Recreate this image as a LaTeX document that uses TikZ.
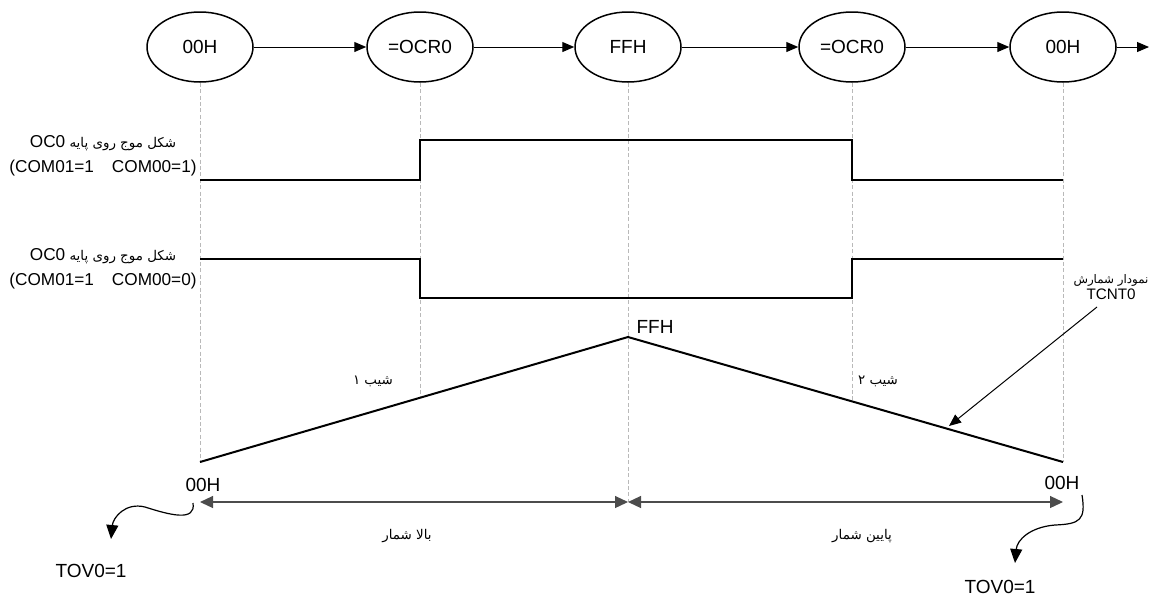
\documentclass[tikz,border=0pt]{standalone}
\usepackage{fontspec}
\setmainfont{Liberation Sans}
\newfontfamily\farsi[Script=Arabic,Scale=0.78]{DejaVu Sans}
\TeXXeTstate=1
\usetikzlibrary{arrows.meta,shapes.geometric,positioning}
\tikzset{
  state/.style={draw,line width=0.75pt,ellipse,minimum width=53pt,minimum height=35pt,inner sep=0pt,font=\fontsize{9.5}{11}\selectfont},
  flow/.style={-{Triangle[length=6pt,width=5pt]},line width=0.5pt},
  flag/.style={-{Triangle[length=7pt,width=6pt]},line width=0.6pt},
  guide/.style={gray!55,line width=0.4pt,dash pattern=on 2pt off 1.2pt},
  wave/.style={line width=1pt},
  span/.style={{Triangle[length=6.5pt,width=6pt]}-{Triangle[length=6.5pt,width=6pt]},line width=0.6pt,black!70},
  note/.style={font=\fontsize{8.6}{12.5}\selectfont,align=center,inner sep=0pt},
  big/.style={font=\fontsize{9.5}{11}\selectfont,inner sep=0pt}
}
\newcommand{\fatext}[1]{{\farsi\beginR #1\endR}}
\begin{document}
\begin{tikzpicture}[x=0.5pt,y=-0.5pt]
\useasboundingbox (0,0) rectangle (1150,596);
\foreach \n/\x/\t in {s0/200/00H,s1/420/=OCR0,s2/628/FFH,s3/852/=OCR0,s4/1063/00H}
  \node[state] (\n) at (\x,47) {\t};
\foreach \a/\b in {s0/s1,s1/s2,s2/s3,s3/s4}
  \draw[flow] (\a) -- (\b);
\coordinate (out) at (1149,47);
\draw[flow] (s4) -- (out);

\coordinate (z0) at (200,462);
\coordinate (pk) at (628,337);
\coordinate (z1) at (1063,462);
\coordinate (m1) at (420,398);
\coordinate (m3) at (852,401);
\coordinate (a0) at (200,502);
\coordinate (a1) at (628,502);
\coordinate (a2) at (1063,502);
\draw[guide] (s0) -- (z0);
\draw[guide] (s1) -- (m1);
\draw[guide] (s2) -- (a1);
\draw[guide] (s3) -- (m3);
\draw[guide] (s4) -- (z1);

\draw[wave] (200,180) -- (420,180) -- (420,140) -- (852,140) -- (852,180) -- (1063,180);
\draw[wave] (200,259) -- (420,259) -- (420,298) -- (852,298) -- (852,259) -- (1063,259);
\draw[wave] (z0) -- (pk) -- (z1);

\node[note,anchor=east] (w1) at (197,156) {\fatext{شکل موج روی پایه \beginL\normalfont OC0\endL}\\(COM01=1\hspace{9pt}COM00=1)};
\node[note,anchor=east] (w2) at (197,269) {\fatext{شکل موج روی پایه \beginL\normalfont OC0\endL}\\(COM01=1\hspace{9pt}COM00=0)};
\node[note,font=\fontsize{7.6}{8}\selectfont] (tc) at (1111,287) {\fatext{نمودار شمارش}\\TCNT0};
\coordinate (hit) at (949,426);
\draw[flow] ([xshift=-7pt,yshift=-3.5pt]tc.south) -- (hit);

\node[big] (ff) at (655,327) {FFH};
\node[big] (l0) at (203,485) {00H};
\node[big] (l1) at (1062,483) {00H};
\node[note] (k1) at (373,381) {\fatext{شیب ۱}};
\node[note] (k2) at (878,381) {\fatext{شیب ۲}};

\draw[span] (a0) -- (a1);
\draw[span] (a1) -- (a2);
\node[note] (up) at (407,536) {\fatext{بالا شمار}};
\node[note] (dn) at (862,536) {\fatext{پایین شمار}};

\node[big] (t0) at (91,571) {TOV0=1};
\node[big] (t1) at (1000,587) {TOV0=1};
\coordinate (c0) at (193,503);
\coordinate (e0) at (111,539);
\coordinate (c1) at (1082,495);
\coordinate (e1) at (1015,563);
\draw[flag] (c0) .. controls (196,522) and (170,515) .. (145,507) .. controls (125,502) and (113,518) .. (e0);
\draw[flag] (c1) .. controls (1086,520) and (1080,524) .. (1055,525) .. controls (1030,527) and (1017,540) .. (e1);
\end{tikzpicture}
\end{document}
